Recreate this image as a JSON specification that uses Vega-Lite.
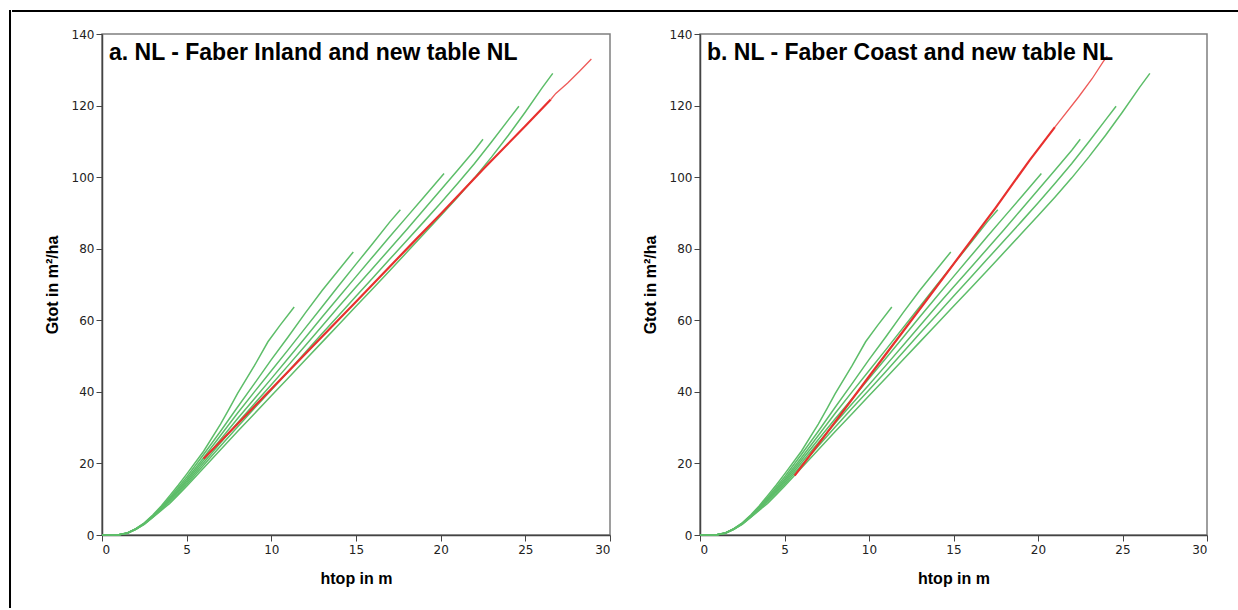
{
"$schema": "https://vega.github.io/schema/vega-lite/v6.json",
"padding": {"left": 9, "top": 10, "right": 0, "bottom": 0},
"background": "white",
"spacing": 0,
"config": {
  "font": "Liberation Sans",
  "view": {"stroke": "#7f7f7f", "strokeWidth": 1.5},
  "axis": {"labelFont": "DejaVu Sans", "labelFontSize": 12, "labelColor": "#222222", "titleFont": "Liberation Sans", "titleFontSize": 16, "titleFontWeight": "bold", "titleColor": "black", "domainColor": "#444444", "domainWidth": 1.5, "tickColor": "#444444", "tickSize": 6, "grid": false, "labelPadding": 2},
  "axisX": {"labelPadding": 3, "titlePadding": 15},
  "axisY": {"titlePadding": 11},
  "title": {"font": "Liberation Sans", "fontSize": 23, "fontWeight": "bold", "color": "black", "anchor": "start", "frame": "group", "offset": -37, "dx": 7}
},
"datasets": {
  "green": [
{"line":1,"h":0,"G":0},{"line":1,"h":0.5,"G":0},{"line":1,"h":1,"G":0.1},{"line":1,"h":1.5,"G":0.6},{"line":1,"h":2,"G":1.8},{"line":1,"h":2.5,"G":3.4},{"line":1,"h":3,"G":5.6},{"line":1,"h":3.5,"G":8.1},{"line":1,"h":4,"G":11},{"line":1,"h":4.5,"G":13.9},{"line":1,"h":5,"G":17},{"line":1,"h":6,"G":23.4},{"line":1,"h":7,"G":31},{"line":1,"h":7.5,"G":35.2},{"line":1,"h":8,"G":39.5},{"line":1,"h":9,"G":47.3},{"line":1,"h":9.8,"G":54},{"line":1,"h":10.5,"G":58.5},{"line":1,"h":11.35,"G":63.7},
{"line":2,"h":0,"G":0},{"line":2,"h":0.5,"G":0},{"line":2,"h":1,"G":0.1},{"line":2,"h":1.5,"G":0.6},{"line":2,"h":2,"G":1.7},{"line":2,"h":2.5,"G":3.3},{"line":2,"h":3,"G":5.4},{"line":2,"h":3.5,"G":7.8},{"line":2,"h":4,"G":10.5},{"line":2,"h":4.5,"G":13.3},{"line":2,"h":5,"G":16.2},{"line":2,"h":6,"G":22.5},{"line":2,"h":7,"G":29},{"line":2,"h":8,"G":35.7},{"line":2,"h":9,"G":42.3},{"line":2,"h":10,"G":49},{"line":2,"h":11,"G":55.4},{"line":2,"h":12,"G":62},{"line":2,"h":13,"G":68.3},{"line":2,"h":14,"G":74.2},{"line":2,"h":14.84,"G":79.1},
{"line":3,"h":0,"G":0},{"line":3,"h":0.5,"G":0},{"line":3,"h":1,"G":0.1},{"line":3,"h":1.5,"G":0.55},{"line":3,"h":2,"G":1.7},{"line":3,"h":2.5,"G":3.2},{"line":3,"h":3,"G":5.3},{"line":3,"h":3.5,"G":7.6},{"line":3,"h":4,"G":10.2},{"line":3,"h":4.5,"G":12.8},{"line":3,"h":5,"G":15.6},{"line":3,"h":6,"G":21.6},{"line":3,"h":7,"G":27.8},{"line":3,"h":8,"G":34},{"line":3,"h":9,"G":40},{"line":3,"h":10,"G":45.9},{"line":3,"h":11,"G":51.8},{"line":3,"h":12,"G":57.8},{"line":3,"h":13,"G":63.8},{"line":3,"h":14,"G":69.8},{"line":3,"h":15,"G":75.7},{"line":3,"h":16,"G":81.5},{"line":3,"h":17,"G":87.5},{"line":3,"h":17.62,"G":90.9},
{"line":4,"h":0,"G":0},{"line":4,"h":0.5,"G":0},{"line":4,"h":1,"G":0.1},{"line":4,"h":1.5,"G":0.55},{"line":4,"h":2,"G":1.7},{"line":4,"h":2.5,"G":3.2},{"line":4,"h":3,"G":5.2},{"line":4,"h":3.5,"G":7.4},{"line":4,"h":4,"G":9.9},{"line":4,"h":4.5,"G":12.4},{"line":4,"h":5,"G":15.1},{"line":4,"h":6,"G":20.9},{"line":4,"h":7,"G":26.7},{"line":4,"h":8,"G":32.5},{"line":4,"h":9,"G":38.1},{"line":4,"h":10,"G":43.7},{"line":4,"h":11,"G":49.4},{"line":4,"h":12,"G":55.1},{"line":4,"h":13,"G":60.9},{"line":4,"h":14,"G":66.6},{"line":4,"h":15,"G":72.2},{"line":4,"h":16,"G":77.8},{"line":4,"h":17,"G":83.4},{"line":4,"h":18,"G":88.9},{"line":4,"h":19,"G":94.4},{"line":4,"h":20.2,"G":101},
{"line":5,"h":0,"G":0},{"line":5,"h":0.5,"G":0},{"line":5,"h":1,"G":0.1},{"line":5,"h":1.5,"G":0.5},{"line":5,"h":2,"G":1.6},{"line":5,"h":2.5,"G":3.1},{"line":5,"h":3,"G":5.1},{"line":5,"h":3.5,"G":7.3},{"line":5,"h":4,"G":9.6},{"line":5,"h":4.5,"G":12},{"line":5,"h":5,"G":14.6},{"line":5,"h":6,"G":20.2},{"line":5,"h":7,"G":25.8},{"line":5,"h":8,"G":31.3},{"line":5,"h":9,"G":36.7},{"line":5,"h":10,"G":42},{"line":5,"h":11,"G":47.4},{"line":5,"h":12,"G":52.9},{"line":5,"h":13,"G":58.4},{"line":5,"h":14,"G":63.9},{"line":5,"h":15,"G":69.3},{"line":5,"h":16,"G":74.6},{"line":5,"h":17,"G":80},{"line":5,"h":18,"G":85.4},{"line":5,"h":19,"G":90.9},{"line":5,"h":20,"G":96.4},{"line":5,"h":21,"G":101.9},{"line":5,"h":22,"G":107.5},{"line":5,"h":22.5,"G":110.6},
{"line":6,"h":0,"G":0},{"line":6,"h":0.5,"G":0},{"line":6,"h":1,"G":0.1},{"line":6,"h":1.5,"G":0.5},{"line":6,"h":2,"G":1.6},{"line":6,"h":2.5,"G":3.1},{"line":6,"h":3,"G":5},{"line":6,"h":3.5,"G":7.1},{"line":6,"h":4,"G":9.3},{"line":6,"h":4.5,"G":11.6},{"line":6,"h":5,"G":14.1},{"line":6,"h":6,"G":19.5},{"line":6,"h":7,"G":24.9},{"line":6,"h":8,"G":30.2},{"line":6,"h":9,"G":35.4},{"line":6,"h":10,"G":40.5},{"line":6,"h":11,"G":45.7},{"line":6,"h":12,"G":51},{"line":6,"h":13,"G":56.3},{"line":6,"h":14,"G":61.5},{"line":6,"h":15,"G":66.7},{"line":6,"h":16,"G":71.9},{"line":6,"h":17,"G":77.1},{"line":6,"h":18,"G":82.3},{"line":6,"h":19,"G":87.5},{"line":6,"h":20,"G":92.8},{"line":6,"h":21,"G":98.2},{"line":6,"h":22,"G":103.8},{"line":6,"h":23,"G":109.8},{"line":6,"h":24,"G":116},{"line":6,"h":24.62,"G":119.8},
{"line":7,"h":0,"G":0},{"line":7,"h":0.5,"G":0},{"line":7,"h":1,"G":0.1},{"line":7,"h":1.5,"G":0.5},{"line":7,"h":2,"G":1.6},{"line":7,"h":2.5,"G":3},{"line":7,"h":3,"G":4.9},{"line":7,"h":3.5,"G":6.9},{"line":7,"h":4,"G":8.8},{"line":7,"h":4.5,"G":11.2},{"line":7,"h":5,"G":13.6},{"line":7,"h":6,"G":18.7},{"line":7,"h":7,"G":23.8},{"line":7,"h":8,"G":28.9},{"line":7,"h":9,"G":33.9},{"line":7,"h":10,"G":38.9},{"line":7,"h":11,"G":43.9},{"line":7,"h":12,"G":48.9},{"line":7,"h":13,"G":53.9},{"line":7,"h":14,"G":58.9},{"line":7,"h":15,"G":63.9},{"line":7,"h":16,"G":68.9},{"line":7,"h":17,"G":73.9},{"line":7,"h":18,"G":79},{"line":7,"h":19,"G":84.1},{"line":7,"h":20,"G":89.2},{"line":7,"h":21,"G":94.4},{"line":7,"h":22,"G":99.8},{"line":7,"h":23,"G":105.6},{"line":7,"h":24,"G":111.7},{"line":7,"h":25,"G":118.2},{"line":7,"h":26,"G":125},{"line":7,"h":26.62,"G":129}
  ],
  "redA": [
{"part":"main","h":6,"G":21.3},{"part":"main","h":8,"G":31},{"part":"main","h":10,"G":40.8},{"part":"main","h":12,"G":50.6},{"part":"main","h":15,"G":65.2},{"part":"main","h":18.5,"G":82.4},{"part":"main","h":20,"G":89.7},{"part":"main","h":22.55,"G":102.4},{"part":"main","h":25,"G":114.3},{"part":"main","h":26.5,"G":121.7},
{"part":"tail","h":26.5,"G":121.7},{"part":"tail","h":26.8,"G":123.4},{"part":"tail","h":27.5,"G":126.3},{"part":"tail","h":28.2,"G":129.6},{"part":"tail","h":28.9,"G":133}
  ],
  "redB": [
{"part":"main","h":5.6,"G":16.6},{"part":"main","h":8,"G":31.6},{"part":"main","h":10,"G":44.3},{"part":"main","h":12,"G":56.8},{"part":"main","h":13.4,"G":65.6},{"part":"main","h":15,"G":75.7},{"part":"main","h":17.5,"G":91.5},{"part":"main","h":19.5,"G":104.7},{"part":"main","h":21,"G":114},
{"part":"tail","h":21,"G":114},{"part":"tail","h":22.4,"G":122.4},{"part":"tail","h":23.2,"G":127.5},{"part":"tail","h":23.85,"G":132.2},{"part":"tail","h":24.1,"G":133.8}
  ]
},
"hconcat": [
  {"width": 0.01, "height": 596, "data": {"values": []}, "mark": "point", "view": {"stroke": "black", "strokeWidth": 2}},
  {"spacing": 14, "vconcat": [
    {"width": 1224, "height": 0.01, "data": {"values": []}, "mark": "point", "view": {"stroke": "black", "strokeWidth": 2}},
    {"spacing": 29, "hconcat": [
      {"width": 1, "height": 0.01, "data": {"values": []}, "mark": "point", "view": {"stroke": null}},
      {"width": 508, "height": 501,
       "title": {"text": "a. NL - Faber Inland and new table NL"},
       "layer": [
        {"data": {"name": "green"}, "mark": {"type": "line", "color": "#5dbd69", "strokeWidth": 1.5},
         "encoding": {
          "x": {"field": "h", "type": "quantitative", "scale": {"domain": [0, 30], "nice": false}, "axis": {"title": "htop in m", "values": [0,5,10,15,20,25,30]}},
          "y": {"field": "G", "type": "quantitative", "scale": {"domain": [0, 140], "nice": false}, "axis": {"title": "Gtot in m²/ha", "values": [0,20,40,60,80,100,120,140]}},
          "detail": {"field": "line", "type": "nominal"}}},
        {"data": {"name": "redA"}, "transform": [{"filter": "datum.part === 'main'"}], "mark": {"type": "line", "color": "#e8302e", "strokeWidth": 2.2},
         "encoding": {"x": {"field": "h", "type": "quantitative"}, "y": {"field": "G", "type": "quantitative"}}},
        {"data": {"name": "redA"}, "transform": [{"filter": "datum.part === 'tail'"}], "mark": {"type": "line", "color": "#ee5a58", "strokeWidth": 1.3},
         "encoding": {"x": {"field": "h", "type": "quantitative"}, "y": {"field": "G", "type": "quantitative"}}}
       ]},
      {"width": 507, "height": 501,
       "title": {"text": "b. NL - Faber Coast and new table NL"},
       "layer": [
        {"data": {"name": "green"}, "mark": {"type": "line", "color": "#5dbd69", "strokeWidth": 1.5},
         "encoding": {
          "x": {"field": "h", "type": "quantitative", "scale": {"domain": [0, 30], "nice": false}, "axis": {"title": "htop in m", "values": [0,5,10,15,20,25,30]}},
          "y": {"field": "G", "type": "quantitative", "scale": {"domain": [0, 140], "nice": false}, "axis": {"title": "Gtot in m²/ha", "values": [0,20,40,60,80,100,120,140]}},
          "detail": {"field": "line", "type": "nominal"}}},
        {"data": {"name": "redB"}, "transform": [{"filter": "datum.part === 'main'"}], "mark": {"type": "line", "color": "#e8302e", "strokeWidth": 2.2},
         "encoding": {"x": {"field": "h", "type": "quantitative"}, "y": {"field": "G", "type": "quantitative"}}},
        {"data": {"name": "redB"}, "transform": [{"filter": "datum.part === 'tail'"}], "mark": {"type": "line", "color": "#ee5a58", "strokeWidth": 1.3},
         "encoding": {"x": {"field": "h", "type": "quantitative"}, "y": {"field": "G", "type": "quantitative"}}}
       ]}
    ]}
  ]}
]
}
